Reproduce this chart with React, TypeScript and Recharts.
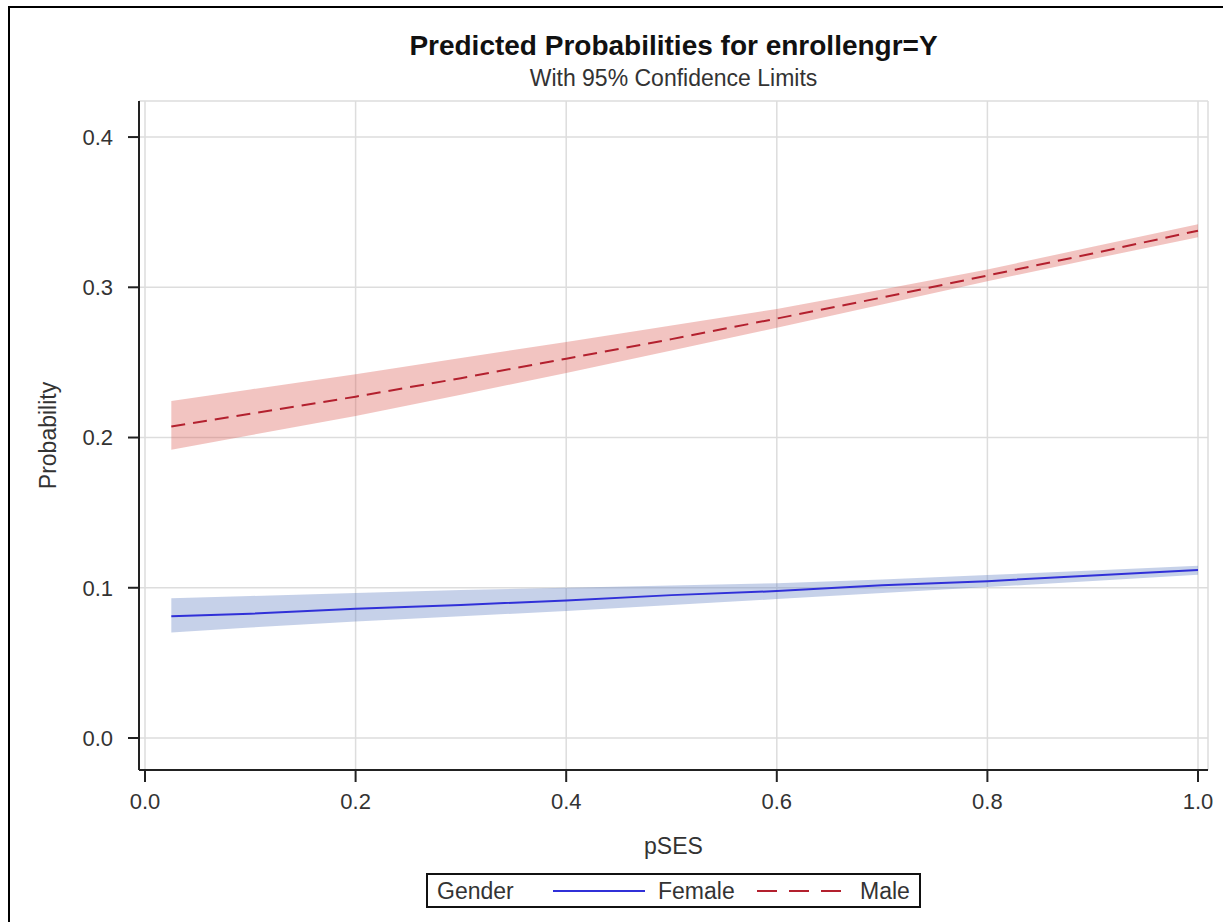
import React from 'react';
import {
  ComposedChart,
  Area,
  Line,
  XAxis,
  YAxis,
  CartesianGrid,
  Label,
} from 'recharts';

const pses = [0.025, 0.1, 0.2, 0.3, 0.4, 0.5, 0.6, 0.7, 0.8, 0.9, 1.0];

const femaleProb = [0.081, 0.0827, 0.086, 0.0885, 0.0916, 0.0951, 0.0978, 0.1016, 0.1044, 0.1082, 0.1118];
const femaleLower = [0.0702, 0.0735, 0.0775, 0.081, 0.0845, 0.0885, 0.0925, 0.0965, 0.1005, 0.1045, 0.1086];
const femaleUpper = [0.093, 0.0945, 0.0965, 0.0985, 0.1, 0.1015, 0.103, 0.1055, 0.1085, 0.1115, 0.1147];

const maleProb = [0.2073, 0.2158, 0.2272, 0.2395, 0.2525, 0.2655, 0.2792, 0.2932, 0.3078, 0.3225, 0.3377];
const maleLower = [0.1918, 0.2015, 0.2143, 0.2285, 0.243, 0.258, 0.273, 0.2885, 0.304, 0.3188, 0.3333];
const maleUpper = [0.2243, 0.232, 0.2422, 0.253, 0.2636, 0.2745, 0.2856, 0.2985, 0.3118, 0.327, 0.342];

const xTicks = [0, 0.2, 0.4, 0.6, 0.8, 1.0];
const yTicks = [0, 0.1, 0.2, 0.3, 0.4];

const chartData = pses.map((x, i) => ({
  pses: x,
  female: femaleProb[i],
  femaleBand: [femaleLower[i], femaleUpper[i]],
  male: maleProb[i],
  maleBand: [maleLower[i], maleUpper[i]],
}));

const FONT = '"Liberation Sans", Arial, sans-serif';
const TEXT = '#333';
const AXIS = '#222';
const FEMALE = '#3030d8';
const MALE = '#b3202e';

export default function App() {
  return (
    <div
      style={{
        position: 'absolute',
        left: 0,
        top: 0,
        width: 1223,
        height: 922,
        overflow: 'hidden',
        background: '#fff',
        fontFamily: FONT,
      }}
    >
      <div
        style={{
          position: 'absolute',
          left: 8,
          top: 6,
          width: 1300,
          height: 1000,
          border: '2px solid #000',
        }}
      />
      <div
        style={{
          position: 'absolute',
          left: 139,
          width: 1069,
          top: 32,
          textAlign: 'center',
          fontSize: 28,
          lineHeight: '28px',
          fontWeight: 'bold',
          color: '#111',
        }}
      >
        Predicted Probabilities for enrollengr=Y
      </div>
      <div
        style={{
          position: 'absolute',
          left: 139,
          width: 1069,
          top: 67,
          textAlign: 'center',
          fontSize: 23,
          lineHeight: '23px',
          color: TEXT,
        }}
      >
        With 95% Confidence Limits
      </div>

      <div style={{ position: 'absolute', left: 0, top: 0 }}>
        <ComposedChart
          width={1223}
          height={922}
          data={chartData}
          margin={{ top: 101, right: 15, bottom: 0, left: 0 }}
        >
          <CartesianGrid stroke="#dddddd" strokeWidth={1.5} />
          <XAxis
            dataKey="pses"
            type="number"
            domain={[-0.0057, 1.0095]}
            ticks={xTicks}
            allowDataOverflow
            tickFormatter={(v: number) => v.toFixed(1)}
            height={152}
            tickSize={12}
            tickMargin={11}
            tick={{ fontSize: 22, fill: TEXT }}
            axisLine={{ stroke: AXIS, strokeWidth: 2 }}
            tickLine={{ stroke: AXIS, strokeWidth: 2 }}
          >
            <Label value="pSES" position="center" style={{ fontSize: 23, fill: TEXT }} />
          </XAxis>
          <XAxis
            xAxisId="top"
            orientation="top"
            type="number"
            domain={[-0.0057, 1.0095]}
            height={0}
            tick={false}
            tickLine={false}
            axisLine={{ stroke: AXIS, strokeWidth: 2 }}
          />
          <YAxis
            type="number"
            domain={[-0.0213, 0.424]}
            ticks={yTicks}
            allowDataOverflow
            tickFormatter={(v: number) => v.toFixed(1)}
            width={139}
            tickSize={11}
            tickMargin={15}
            tick={{ fontSize: 22, fill: TEXT }}
            axisLine={{ stroke: AXIS, strokeWidth: 2 }}
            tickLine={{ stroke: AXIS, strokeWidth: 2 }}
          >
            <Label
              value="Probability"
              position="center"
              angle={-90}
              dx={-22}
              style={{ fontSize: 23, fill: TEXT }}
            />
          </YAxis>
          <YAxis
            yAxisId="right"
            orientation="right"
            type="number"
            domain={[-0.0213, 0.424]}
            width={0}
            tick={false}
            tickLine={false}
            axisLine={{ stroke: AXIS, strokeWidth: 2 }}
          />

          <Area
            type="linear"
            dataKey="femaleBand"
            stroke="none"
            fill="#5b7cc0"
            fillOpacity={0.35}
            isAnimationActive={false}
          />
          <Area
            type="linear"
            dataKey="maleBand"
            stroke="none"
            fill="#d9574c"
            fillOpacity={0.35}
            isAnimationActive={false}
          />
          <Line
            type="linear"
            dataKey="female"
            stroke={FEMALE}
            strokeWidth={2}
            dot={false}
            isAnimationActive={false}
          />
          <Line
            type="linear"
            dataKey="male"
            stroke={MALE}
            strokeWidth={2}
            strokeDasharray="14 8"
            dot={false}
            isAnimationActive={false}
          />
        </ComposedChart>
      </div>

      <div
        style={{
          position: 'absolute',
          left: 426,
          top: 873,
          width: 491,
          height: 31,
          border: '2px solid #111',
          fontSize: 23,
          color: TEXT,
        }}
      >
        <span style={{ position: 'absolute', left: 9, top: 3 }}>Gender</span>
        <svg style={{ position: 'absolute', left: 124, top: 0 }} width={94} height={31}>
          <line x1={1} y1={16} x2={93} y2={16} stroke={FEMALE} strokeWidth={2} />
        </svg>
        <span style={{ position: 'absolute', left: 230, top: 3 }}>Female</span>
        <svg style={{ position: 'absolute', left: 328, top: 0 }} width={88} height={31}>
          <line x1={1} y1={16} x2={86} y2={16} stroke={MALE} strokeWidth={2} strokeDasharray="20 12" />
        </svg>
        <span style={{ position: 'absolute', left: 432, top: 3 }}>Male</span>
      </div>
    </div>
  );
}
